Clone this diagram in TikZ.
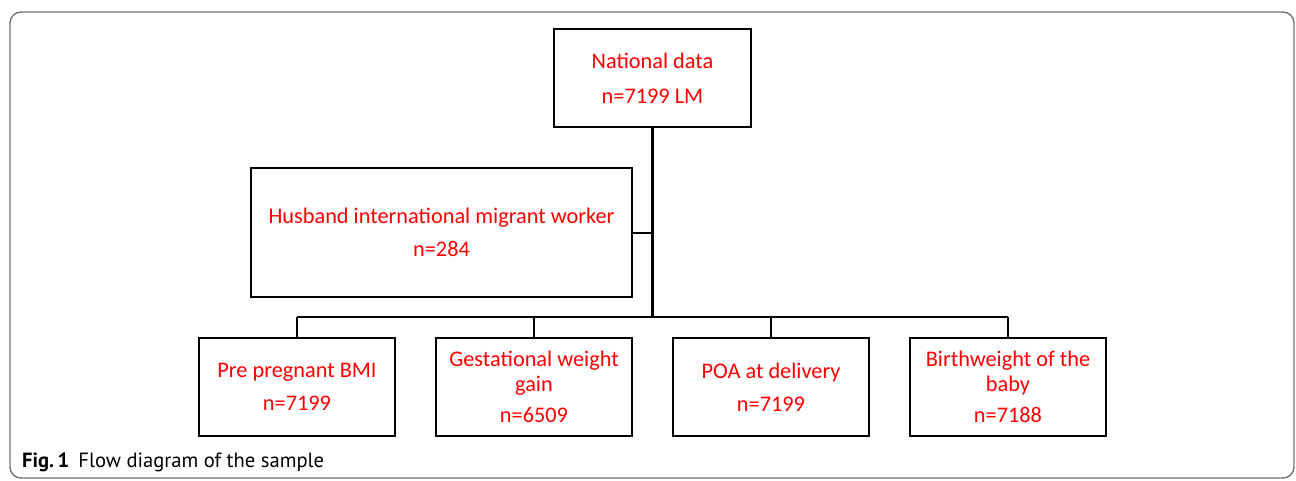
\documentclass[tikz,border=0pt]{standalone}
\usepackage{fontspec}
\setmainfont{Carlito}
\newfontfamily\capfont{PT Sans}
\usepackage{tikz}
\definecolor{boxred}{RGB}{255,0,0}
\definecolor{framegray}{RGB}{110,110,110}
\tikzset{
  flowbox/.style={draw=black, line width=2pt, text=boxred, align=center,
    font=\fontsize{22.3}{25}\selectfont, inner sep=0pt},
  trunk/.style={line width=3pt},
  branch/.style={line width=2pt},
}
\begin{document}
\begin{tikzpicture}[x=1pt,y=-1pt]
  \useasboundingbox (0,0) rectangle (1296,480);
  \draw[framegray, line width=1.3pt, rounded corners=11pt] (10,12) rectangle (1294,478);
  \node[flowbox, minimum width=197pt, minimum height=98pt] (nat) at (652.5,78) {National data\\[10pt]n=7199 LM};
  \node[flowbox, minimum width=381pt, minimum height=129pt] (hus) at (441.5,232.5) {Husband international migrant worker\\[8pt]n=284};
  \node[flowbox, minimum width=196pt, minimum height=98pt] (pre) at (297,387) {Pre pregnant BMI\\[8pt]n=7199};
  \node[flowbox, minimum width=196pt, minimum height=98pt] (gwg) at (534,387) {Gestational weight\\gain\\[6pt]n=6509};
  \node[flowbox, minimum width=196pt, minimum height=98pt] (poa) at (771,387) {POA at delivery\\[8pt]n=7199};
  \node[flowbox, minimum width=196pt, minimum height=98pt] (bw) at (1008,387) {Birthweight of the\\baby\\[6pt]n=7188};
  \coordinate (hub) at (652.5,317);
  \draw[trunk] (nat.south) -- (hub);
  \draw[branch] (hus.east) -- (hus.east -| hub);
  \draw[branch] (pre.north |- hub) -- (bw.north |- hub);
  \foreach \b in {pre,gwg,poa,bw}
    \draw[branch] (\b.north) -- (\b.north |- hub);
  \node[anchor=base west, font=\capfont\fontsize{20.6}{24}\selectfont, inner sep=0pt] (cap) at (22,467) {\textbf{Fig.\,1}\hspace{9pt}Flow diagram of the sample};
\end{tikzpicture}
\end{document}
